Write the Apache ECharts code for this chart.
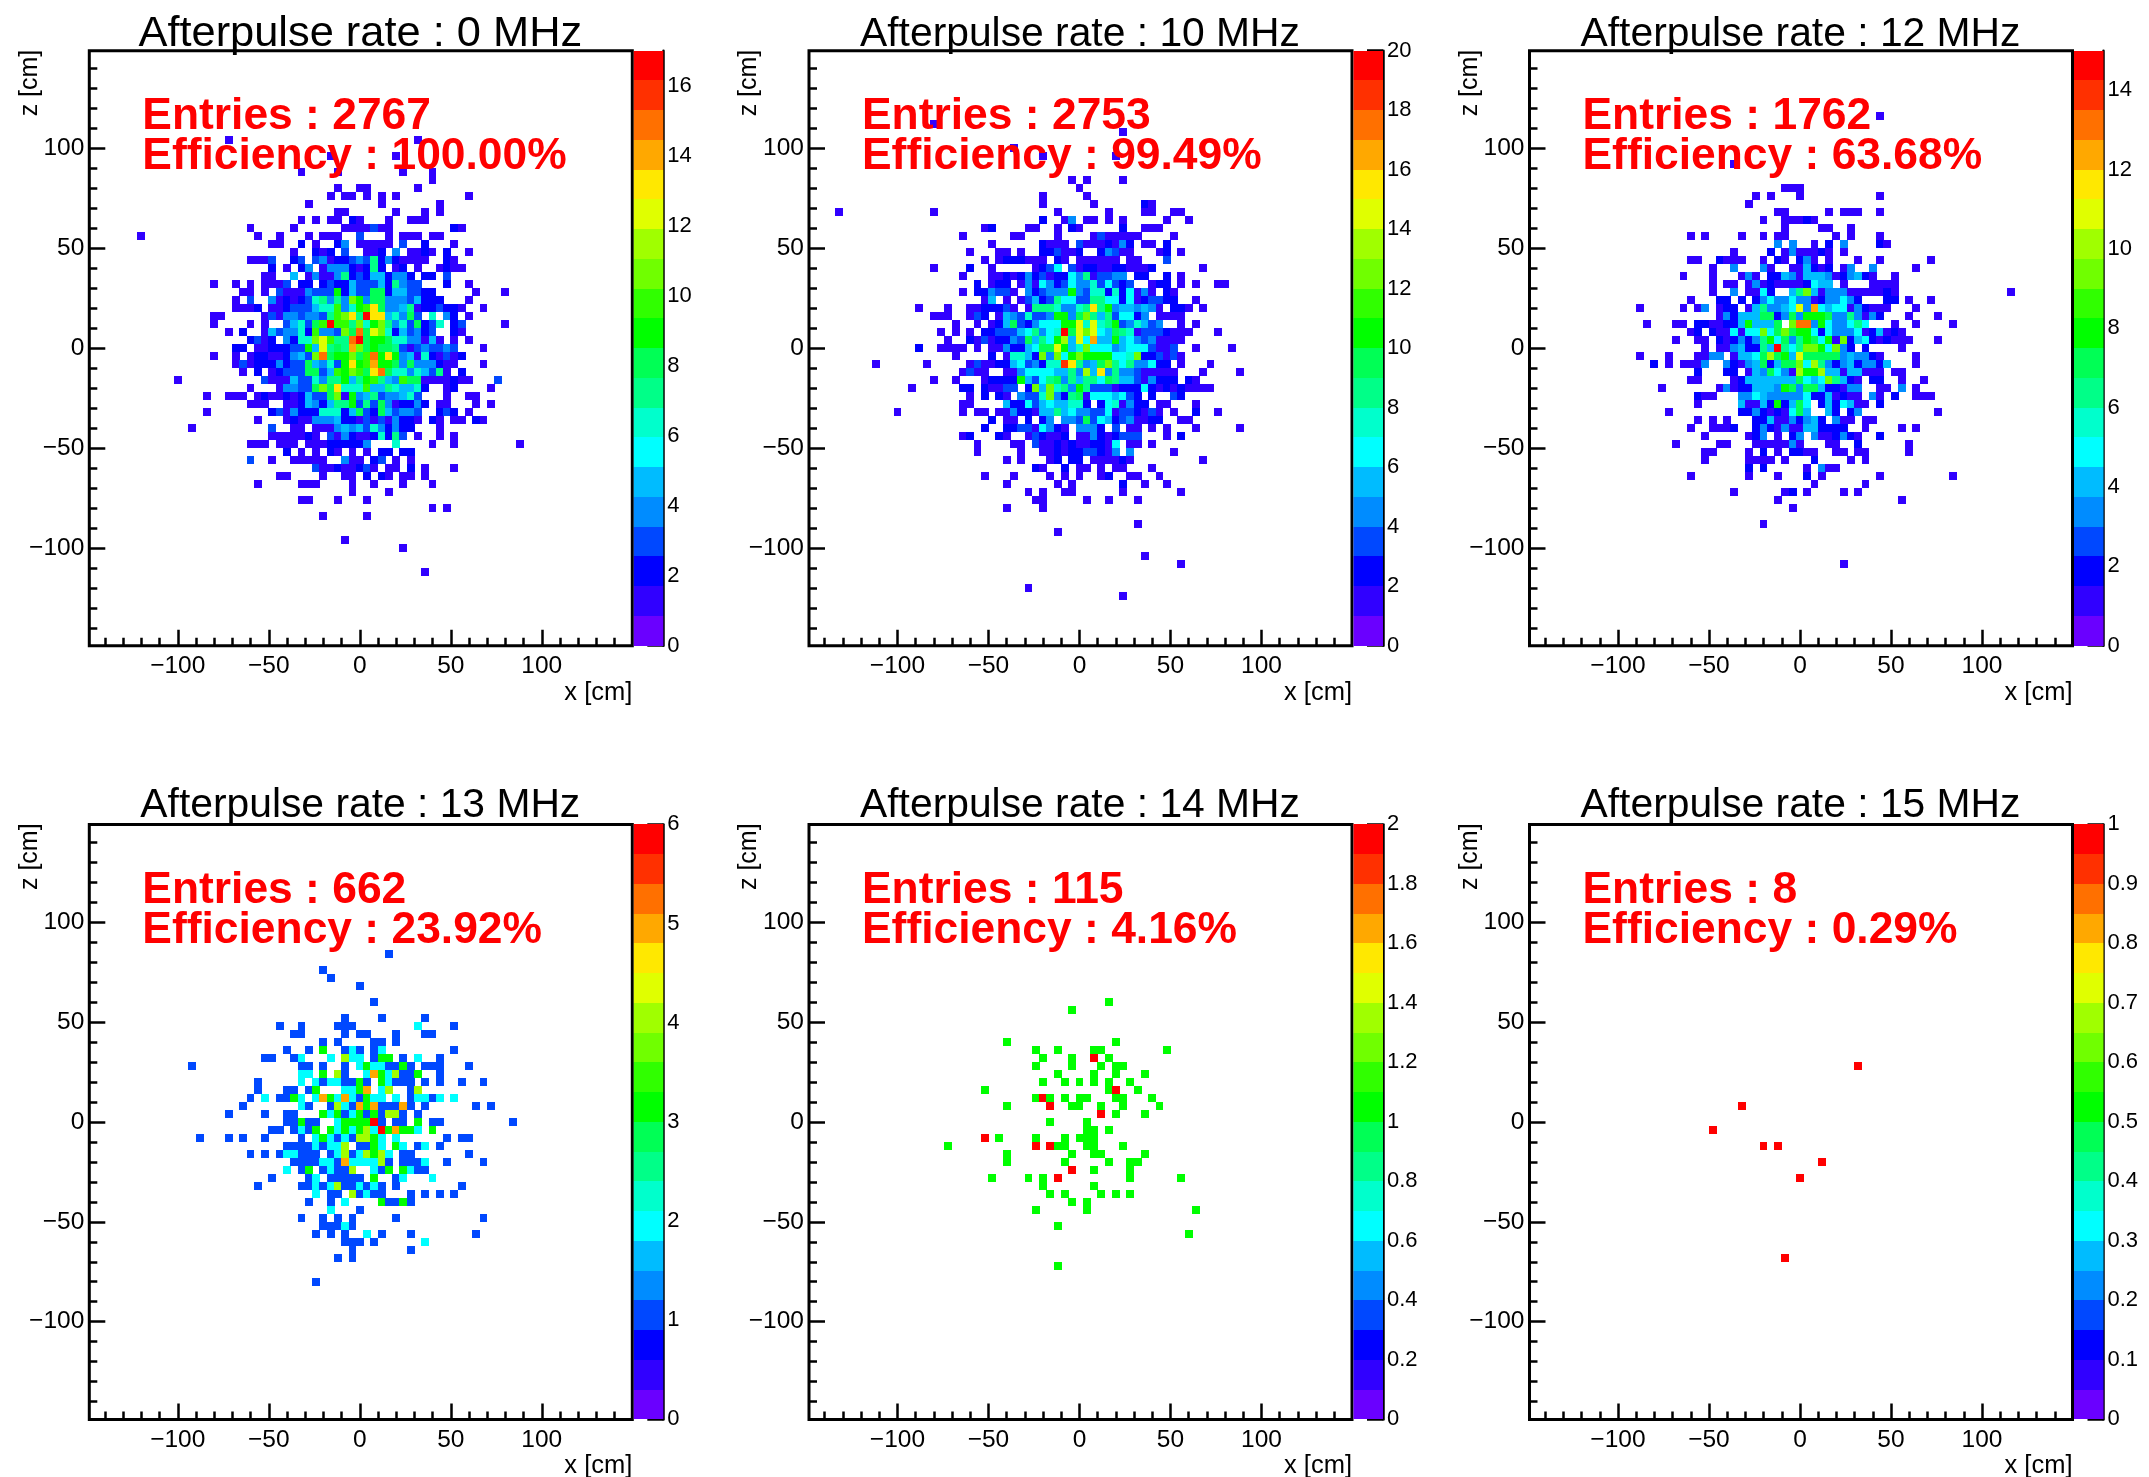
<!DOCTYPE html>
<html><head><meta charset="utf-8">
<script src="https://cdn.jsdelivr.net/npm/echarts@6/dist/echarts.min.js"></script>
<style>html,body{margin:0;padding:0;background:#fff}#c{width:2149px;height:1477px}</style>
</head><body><div id="c"></div>
<script>
// Row format: "zBin|xBin[:count] ..." ; bin = value/4 cm, count defaults to 1
const cells0 = [
"26|-18 8","24|-4 5","22|-8 -3 6 10","21|10","20|-3 0 1 8","19|-4 -2 -1 1 3 5 15","18|-7 3 11","17|-3 -2 5 9 11",
"16|-8 -6 -4 -3 -1:2 0 4 7 8 9","15|-15 -9 -2 -1 0 1 2:3 3 4 13:2 14","14|-30 -14 -11 -7 -5 -4 -3 0:3 4 6 7 8 10 11",
"13|-12 -11 -8:2 -6 -3:2 -2:4 0 1 2 3 4 6:3 9:2 13","12|-9 -6:2 -5 -4:2 -2:3 1 2 3:2 5:4 7 8 9:2 10 12:2 15",
"11|-15 -14 -13 -12:3 -9:2 -8:3 -6:3 -5:4 -4 -3:2 -2:2 -1:3 0:4 1:3 2:7 3:2 4:4 5:2 6 7 8 9 12:2 13",
"10|-12:2 -10 -8:2 -7:4 -5 -4:4 -3:4 -2:4 -1:2 0 1:2 2:7 3:2 5 6:2 8 11 12:2 13 14",
"9|-13 -12 -9:5 -7 -6:4 -5 -4 -3:4 -2:7 -1:2 0:3 1:2 2:5 3:5 4:2 5:4 6:4 7:2 9:2 10:2 12:3",
"8|-20 -17 -15 -13 -12 -11 -10:3 -8:2 -7:2 -5:2 -4:3 -3:2 -2:2 -1:5 0:3 1:3 2:3 3:5 4:2 5:7 6:4 7:3 8:3 12:2 15",
"7|-16 -15 -13 -11:3 -10 -9 -8 -7:4 -6:3 -5:3 -4:3 -3:9 -2:2 -1:5 0:3 1:3 2:8 3:8 4:2 5:5 6:5 7:3 8:3 9:2 10:2 16 20",
"6|-17 -15:3 -12:4 -11 -10:2 -9 -8:2 -7:3 -6:6 -5:7 -4:4 -3:7 -2:4 -1:11 0:9 1:4 2:8 3:8 4:4 5:4 6:4 7:3 8:5 9:2 10:2 11:2 15",
"5|-17 -16 -15 -14:2 -12 -11 -10:2 -9:3 -8:3 -7:3 -6:5 -5:6 -4:6 -3:10 -2:4 -1:6 0:9 1:10 2:13 3:8 4:4 5:4 6:5 7:7 8 9:2 10:2 11:3 12:2 13:2 14 17",
"4|-20 -19 -13 -12:3 -11 -10:4 -9:4 -8:3 -7:4 -6:4 -5:3 -4:7 -3:10 -2:11 -1:13 0:7 1:17 2:13 3:13 4:5 5:6 6:4 7:8 8:3 10:6 12:4 13:2 15",
"3|-20 -15 -13 -10:3 -9:5 -8:6 -7:3 -6:8 -5:10 -4:17 -3:10 -2:10 -1:7 0:11 1:6 2:9 3:11 4:7 5:4 6:6 7:3 8:8 9:2 10:3 11:6 13:2 14:3 20",
"2|-18 -16:2 -13 -12:5 -11:3 -10:4 -9:4 -8:6 -7:2 -6:10 -5:4 -4:4 -3:3 -2:11 -1:8 0:15 1:8 2:12 3:11 4:6 5:2 6:5 7:3 8:4 9:2 10:3 13:2 14",
"1|-15:2 -14:3 -13 -12:2 -10:4 -9:2 -8:6 -7:6 -6:11 -5:12 -4:10 -3:7 -2:7 -1:15 0:17 1:8 2:9 3:9 4:8 5:6 6:6 7:4 8:4 9 10:5 11 13 15",
"0|-17:2 -16:2 -14 -13 -12:2 -11:2 -10:2 -9:3 -8:3 -7:9 -6:5 -5:12 -4:7 -3:8 -2:7 -1:14 0:11 1:8 2:9 3:8 4:8 5:7 6:3 7 8:3 9:4 10:3 11:3 12:4 13:3 17",
"-1|-20 -17 -15 -14:2 -13:2 -12 -11 -10:2 -9:4 -8:5 -7:3 -6:11 -5:15 -4:8 -3:9 -2:9 -1:11 0:8 1:10 2:15 3:9 4:13 5:9 6:4 7:5 8 9:6 10:2 11 12:3 13 14:2",
"-2|-17 -16:3 -15 -14:2 -13:2 -12:2 -11:4 -10:2 -9:3 -8:3 -7:8 -6:5 -5:4 -4:6 -3:3 -2:9 -1:13 0:9 1:10 2:14 3:9 4:9 5:8 6:4 7:8 8:4 9:4 10:4 11:2 12 13 17",
"-3|-16 -14:2 -12 -11:2 -10:3 -9:3 -8:3 -7:8 -6:8 -5:3 -4:5 -3:10 -2:9 -1:11 0:10 1:8 2:13 3:15 4:8 5:6 6:6 7:4 8:6 9:5 10:3 11:7 12 14:2",
"-4|-25 -13:3 -12 -11 -10 -9:5 -8:3 -7:3 -6:6 -5:4 -4:7 -3:7 -2:9 -1:5 0:7 1:9 2:10 3:7 4:5 5:4 6:10 7:8 8:8 9 10 11 12 13:2 14 15 19:3",
"-5|-15 -11 -10:4 -9:4 -8:3 -7:3 -6:8 -5:11 -4:8 -3:13 -2:6 -1:6 0:6 1:10 2:5 3:5 4:7 5:6 6:5 7:5 8:6 9:2 12 13:2 18",
"-6|-21 -18 -17 -16 -14 -13:2 -12 -11 -10:2 -9 -8:2 -7:5 -6:3 -5:3 -4:8 -3:11 -2 -1:9 0:4 1:5 2:7 3:3 4:4 5:4 6:5 7:6 8:3 12 15 16",
"-7|-15 -14 -13 -10 -9 -8:2 -7:5 -6:4 -5:2 -4:5 -3:7 -2:7 -1:9 0:3 1:7 2:3 3:8 4:4 5 6:2 7:2 8:4 9:2 11 12 16 18",
"-8|-21 -12:2 -11:3 -10 -9:4 -8:2 -7:2 -6:2 -5:6 -4:6 -3:6 -2:2 -1:5 0:8 1:3 2:2 3:8 4:5 5:3 6:4 7:4 8:3 11:2 12:3 13:2 15",
"-9|-14 -10 -9:2 -8 -7 -6:4 -5:4 -4:4 -3:5 -2:2 -1:2 0 1:3 2 3:3 4 5:4 6:2 7:2 8 10:2 11 13 14 16:2 17",
"-10|-23 -12:3 -9 -8 -6 -5 -4 -3:4 -2:5 -1:4 0:5 1:3 2:6 3:4 4:2 5:4 6:2 7:2 11",
"-11|-12 -11 -10 -9 -8 -7:2 -6 -4:3 -3 -2:4 -1:2 0 1 2:2 3:6 4:2 5:7 6:3 8 11 13",
"-12|-15 -14 -13 -11 -10 -9 -7 -6 -5 -4:2 -3:2 -2:2 -1:2 0:2 1:4 5:6 10 13 22",
"-13|-10:2 -8 -6 -4:2 -3 -1 1 3:2 4:2 6:2 7:2",
"-14|-15:3 -12 -9 -8 -7 -6 -5 -2:4 -1 0 2:2 3:3 5 7",
"-15|-6:3 -5 -4 -3:2 -2 -1 0:2 1:3 2 4 5 7:2 9 13",
"-16|-11 -10 -5 -2 -1 1:2 3:2 4 6 7 9","-17|-14 -8 -7 -6 -1 2 6 10","-18|-1 4","-19|-8 -7 -3 1","-20|10 12","-21|-5 1","-24|-2","-25|6","-28|9"];
const cells10 = [
"28|-20","27|6","25|-9","24|-5 5","21|-1 1 6","20|0","19|-5 1","18|-5 2 9:2 10","17|-33 -20 -3 4 9 10 13 14",
"16|-5:2 -2 -1:4 1 2 4 6 12 15","15|-13 -12:2 -7 -6 -3 -1:2 0 6:2 9 10 11","14|-16 -9 -8 -3 2 3:3 4 5 6 7 8 13",
"13|-12 -5:2 -4 -3 -2 0:3 1 2 3 4:2 5 6:4 7:2 9 10 12:2","12|-15 -11 -10 -8 -5:2 -4:2 -3:3 -2 -1 0:2 3:2 4:4 5:3 6 7 11 12:2 14",
"11|-13 -11 -10:2 -9:2 -8:2 -7 -6 -5 -3:2 -2 0 1 2 3 4 5 7 8 12:3","10|-20 -15:2 -12 -6 -5:2 -4:3 -3:6 -1:3 0 1:2 2:2 3 4 5:2 6:2 7 8 9 10:2 17",
"9|-16 -12 -11 -10:2 -9 -8:2 -7:4 -6:2 -5:3 -4 -3:2 -2:2 -1:6 0:4 1:8 2 3:3 4:3 5:4 6:4 8:2 9:2 12:2 14",
"8|-14:2 -12 -11:2 -10:2 -8 -7:4 -6 -5:6 -4:4 -3:2 -2:3 -1:6 0:4 1:4 2:7 3:3 4:6 5:3 6:2 7:3 10 11:2 12:2 14 16 19 20",
"7|-16 -14:2 -13:2 -12:4 -11:3 -10:3 -9 -7:4 -6:2 -5:3 -4:4 -3:4 -2:4 -1:10 0:4 1:3 2:7 3:7 4:2 5:7 6:2 7:6 8 9:4 10 12:2 13",
"6|-13 -12:5 -10 -8 -7:3 -6:5 -5:2 -4:3 -3:8 -2:6 -1:6 0:3 1:3 2:8 3:8 4:6 5:6 6:2 7:6 8 9:2 10:3 11:3 12:2 13:2 16",
"5|-22 -18 -15 -14 -13:2 -12:2 -11:2 -10:3 -9 -7 -6:8 -5:8 -4:8 -3:7 -2:4 -1:4 0:7 1:8 2:15 3:8 4:10 5:4 6:5 7:5 8:4 9:5 10:4 11 13:2 14:2 15 17",
"4|-20 -19 -18 -15 -14:3 -13:2 -11 -10:5 -9:4 -8:3 -7:7 -6:3 -5:3 -4:4 -3:10 -2:10 -1:4 0:9 1:12 2:8 3:5 4:8 5:3 6:6 7:6 8:2 9:4 11 12 13 14",
"3|-17 -14 -12 -11:2 -10:5 -9:9 -8:3 -7:2 -6:4 -5:6 -4:6 -3:6 -2:10 -1:10 0:14 1:7 2:14 3:7 4:8 5:10 6:3 7:4 8:7 9:5 10:3 11:4 14 16",
"2|-19 -17 -15 -13:2 -12:2 -11:3 -10:3 -9:3 -8:5 -7:6 -6:8 -5:4 -4:6 -3:7 -2:19 -1:9 0:14 1:12 2:14 3:6 4:5 5:9 6:8 7:7 8 9:3 10:3 11:3 12:2 13 14 15 19",
"1|-18 -15:2 -14 -13:3 -12 -11:2 -10:2 -9:4 -8:3 -7:9 -6:5 -5:8 -4:6 -3:10 -2:13 -1:5 0:14 1:6 2:16 3:5 4:5 5:10 6:5 7:6 8:4 9:3 10:4 11 12 13 14",
"0|-22:2 -19 -18 -17 -16 -14 -12 -11 -10:4 -9:2 -8:2 -7:5 -6:6 -5:9 -4:9 -3:14 -2:10 -1:5 0:7 1:12 2:6 3:6 4:6 5:4 6:5 7:6 8:6 9:6 10:3 11 12 13:3 16 21",
"-1|-17 -12:2 -10 -9:7 -8:7 -7:5 -6:2 -5:12 -4:4 -3:12 -2:6 -1:10 0:12 1:10 2:10 3:10 4:10 5:6 6:6 7:7 8:12 9:2 10:2 11:3 12 13:3 14",
"-2|-28 -21 -15 -14:3 -13 -12 -11:2 -10:2 -9:5 -8:6 -7:3 -6:4 -5:2 -4:7 -3:7 -2:18 -1:15 0:8 1:4 2:5 3:9 4:12 5:8 6:6 7:8 8:4 9:4 10:6 11:2 12:2 14 18",
"-3|-16 -15:3 -14 -13 -10 -9 -8:4 -7:6 -6:6 -5:6 -4:6 -3:5 -2:5 -1:8 0:4 1:13 2:5 3:15 4:4 5:8 6:4 7:4 8:3 9 10 11 12 13 17 22",
"-4|-20 -17 -13 -12:2 -11:2 -10:2 -9:2 -8:10 -7:5 -6:3 -5:6 -4:8 -3:9 -2:4 -1:8 0:5 1:8 2:8 3:6 4:9 5:8 6:5 7:5 8:3 9 10:4 11:2 12:2 13:2 15:2 16",
"-5|-23 -16:2 -15:2 -13:2 -12 -11 -10:3 -9:3 -7:2 -6:12 -5:5 -4:12 -3:7 -2:8 -1:4 0:10 1:8 2:3 3:3 4:3 5 6:2 7:2 8:2 9:6 10:2 11 12:2 13 14:2 15 16 17 18",
"-6|-15 -13:2 -11:2 -10 -8:4 -7:3 -6:3 -5:7 -4:12 -3:4 -2:2 -1:8 0:9 1 2:6 3:6 4:6 5:5 6:6 7:3 8:2 10:2 13:3 14:2",
"-7|-16 -15 -10:5 -9:2 -8:2 -7:6 -6:3 -5:5 -4:6 -3:5 -2:5 -1:7 0:7 1:2 3:2 4:6 5:7 6 7:4 8:2 9:2 11 12 16",
"-8|-25 -16 -14 -13 -11 -10 -9:4 -8:2 -7:2 -6 -5:5 -4:5 -3:8 -2:5 -1:6 0:4 1:4 2:3 3:3 4:6 5 6:3 7:3 8:2 9 10:3 11 13 16:2 19",
"-9|-12:2 -10 -9 -7:2 -5:2 -4:4 -2:4 -1:4 0:3 1:9 2:3 3:6 4:5 5:2 6:3 7:4 8 9 10:2 11:2 14 15",
"-10|-13:2 -10:2 -9:2 -8:3 -7:3 -6 -5:6 -4:4 -3:2 -2 0:4 1:4 2:4 3:2 5:3 7 8 10 12 16 22",
"-11|-16 -15:2 -11:2 -10 -7 -6:3 -5:2 -4 -3 -2:2 0 1 2:4 3:2 4 5:2 6:3 7:3 8:3 12 14:2",
"-12|-14 -9 -8 -6:3 -5 -4 -3:2 -2 -1:2 0 1 2:2 3:2 4 5:6 7 8 10",
"-13|-14 -8 -5 -4 -3:2 -2 -1:2 0:2 1:3 2:3 3:2 4 5:4 7:4 13",
"-14|-10 -8 -4 -3:2 -1:2 0:2 2 3 4 5 6:2 7 17","-15|-6:2 -5 -2:2 0 1 3 5 6 10","-16|-13 -9 -4 -2 0 3 4:2 7 8 11",
"-17|-10 -3 -1 6:2 9 12","-18|-7 -5 -2 -1 6 14","-19|-6 -5 1 4 8","-20|-10 -5","-22|8","-23|-3","-26|9","-27|14","-30|-7","-31|6"];
const cells12 = [
"29|11","23|-9","20|-2 -1 0","19|-6 -4 0 11","18|-7","17|-3 -2 4 6 7 8 11","16|-5 -2 -1 0 1:2 2","15|-2 3 4 7","14|-15 -13 -8 -5 -3 -2 5 7 11",
"13|-3:3 -1:3 2 4:2 6:3 11:2 12","12|-9 -4:2 -2 -1:3 0 1 2 3:2 4 6","11|-15 -14 -11:2 -10 -9 -8 -5 -3:2 -2 0:2 1:3 2 4 8 11 18",
"10|-12 -9:3 -5:3 -4 -1 0 1:4 2:2 3 4:2 6 7:3 10:3 16","9|-16 -12 -8 -7:3 -6 -4:2 -3:2 -2:4 -1:3 0 1:4 2:4 3:4 4:3 5 6:2 7:3 8:4 9:2 10 13",
"8|-12 -10 -9 -7 -6:3 -5 -4:2 -3 -2 -1 0 1:2 2:5 3:4 4:4 6 10 11 12 13","7|-12 -9:3 -7 -6 -5:5 -4:2 -1:4 0:6 1:9 2:4 3 4:3 5:3 6:3 7 8 9 10 11 12:2 13 29",
"6|-15 -11:2 -10:2 -8:2 -6:2 -5:3 -4:5 -3:3 -2:3 -1:5 0:3 1:3 2 3:2 4:3 5:3 6:5 7:3 8:2 12:2 13:2 15 18",
"5|-22 -16 -14 -13:3 -11 -10:2 -9:2 -7 -6:4 -5:6 -4:3 -3:3 -2:4 -1:5 0:11 1:3 2:12 3:5 4:4 5:5 6:5 7 8:3 9:2 10 11 12 16",
"4|-11 -10:3 -9:2 -8:4 -7:4 -6:4 -5:7 -4:7 -3:2 -2:3 -1:7 0:3 1:8 2:8 3:8 4:7 5:3 6:3 7:6 8:3 9 10:3 11:2 15 19",
"3|-21 -17 -16 -14:2 -13:2 -12 -11 -10:2 -9:2 -8:4 -7:8 -6:4 -5:4 -4:4 -3:7 -1:9 0:13 1:13 2:3 3:8 4:5 5:3 6:3 7:5 8:6 9:5 13 16 21",
"2|-15 -14:2 -12:2 -11 -10 -9:5 -8 -7:5 -6:5 -5:9 -4:5 -3:7 -2:9 -1:7 0:8 1:8 2:5 3:2 4:5 5:3 6:3 7:3 8:5 9 10:2 11:4 12 13:2 14",
"1|-17 -14 -13 -11:2 -10 -9:2 -8:3 -7:2 -6:3 -5:6 -4:8 -3:5 -2:7 -1:3 0:6 1:8 2:7 3:5 4:8 5 6:9 7:2 8:4 9:5 10:2 11 12:2 13 14 15 19",
"0|-13 -11 -10 -9:3 -8:4 -7:2 -6:2 -5:6 -4:4 -3:15 -2:6 -1:5 0:6 1:9 2:9 3:8 4:5 5:9 6:3 7:2 9:2 14",
"-1|-22 -18 -14 -13 -12:3 -11:3 -9 -8:4 -7:4 -6:5 -5:7 -4:10 -3:7 -2:8 -1:4 0:11 1:7 2:7 3:7 4:7 5:7 6:3 7:4 8:3 9:3 10:2 11 16",
"-2|-20:2 -18 -16 -15 -14 -13:3 -10:3 -9:2 -8 -7:3 -6:4 -5:7 -4:2 -3:4 -2:7 -1:7 0:9 1:5 2:10 3:6 4:3 5:2 6:3 7:4 8:2 9:3 10:3 11:2 12:4 16",
"-3|-14:2 -10:2 -9:2 -7 -6:4 -5:3 -4:7 -3:5 -2:3 -1 0:10 1:8 2:8 3:10 4:4 5:4 6 7:4 8:4 9 10 11 13 14",
"-4|-15 -14 -9 -8:2 -7:4 -6:4 -5:4 -4:4 -3:4 -2:4 -1:4 0:7 1:5 2:4 3:5 4:9 5:6 6:4 7:2 8 10:2 11:2 14 17",
"-5|-19 -11 -10:3 -9 -8:2 -7:2 -6:4 -5:4 -4:4 -3:3 -2:8 -1:7 0:3 1:7 2:7 3:4 4:2 5:2 6 7:3 8:3 11 12 14:3 16",
"-6|-14:2 -13 -12 -8:3 -7:3 -6:5 -5:4 -4:3 -3:3 -2:3 -1:3 0:3 1:5 2:2 3:2 4:4 5 6:2 7 8 10:3 11 13:2 16 17 18",
"-7|-14 -8:4 -7 -6 -5:4 -4:2 -3:8 -2:2 -1:4 0:7 1:5 3:2 4:4 5:2 6:5 7:4 8 9 11:2",
"-8|-18 -8:2 -7:2 -6:3 -5:2 -4 -3:2 -2 -1:5 0:7 1:4 4:4 5:2 7:2 8:3 19","-9|-14 -12 -10 -6:2 -5:2 -4:4 -3 -2 -1:3 0:2 1:3 2:4 3:2 5:3 6 7 9 10",
"-10|-15 -12 -11 -10 -9:2 -6:2 -5:3 -4:2 -3 -2:3 -1 0 1:4 2:4 3:2 4:2 5:2 6:2 9 14 16","-11|-13 -7 -6:2 -5:3 -3 -1:2 0:3 2:3 3 4 5:2 6:3 7:2 8 11:2",
"-12|-17 -11 -10 -6 -5 -4 -3 -2 -1:3 0 4 5 8:2 15","-13|-13 -12 -7 -5:2 -3 -1:2 0:2 1 2 5 6 8 9 15","-14|-13 -7 -6 -5 -4 -2 2:2 7 9",
"-15|-7:2 -5:2 1 3:3 4 5","-16|-15 -7 -3 1:2 3 11 21","-17|2 9","-18|-9 -2 -1:2 1 6 8","-19|-3 14","-20|-1","-22|-5","-27|6"];
const cells13 = [
"21|4","19|-5","18|-4","17|0","15|2","13|-2 3 9","12|-11 -8 -3 -2 -1 8:2 13","11|-9 -8 -2 0 1 5 9 10","10|-5 -3 2 3 5",
"9|-10 -7 -5:3 -2 -1:2 0 2 3:2 13","8|-13 -12 -9 -8:2 -4:2 -2:4 -1:2 0:2 2 3:3 4:3 6 8:2 11","7|-23 -8 -7 -5 -2 0:2 1:3 2:2 3:2 4 5 6:3 7 9 10 11 15",
"6|-8:2 -7:2 -5:3 -3:4 -2 1:2 2:5 3:3 4:2 5:4 6 7 8:3 11","5|-14 -8:2 -6:2 -5 -4:2 -3:2 -2 -1 0:3 1 3:3 4:2 5 6 7 9 11 14 17",
"4|-14 -10 -9 -7 -6:3 -2:2 -1:2 0:3 1:5 3:2 4:4 7 8:4","3|-15 -13:2 -11 -10 -9:3 -8:2 -6:2 -5:5 -4:3 -3:2 -2:5 -1:2 0 1:3 2:2 3:2 5:2 7 8:2 9:2 10 11:2 13:2",
"2|-16 -8:2 -7 -4 -3:4 -2:2 -1 0:5 1:3 2:5 3 4 5 6:5 7 9 16 18","1|-18 -13 -10 -9 -5:3 -4:2 -3:3 -2 -1:2 0:3 1 2:3 3 4:4 5:4 6 8",
"0|-10 -9 -8:3 -7 -6 -3:2 -2:3 -1:3 0:3 1:3 2:6 3 5 6 8:3 10 11 21","-1|-12 -11 -9 -8:2 -7 -6:3 -4:3 -3:2 -2:3 -1:2 0:3 1:4 2:2 3:6 4:3 5:5 6:3 7:3 8:2 10:3",
"-2|-22 -18 -16 -13 -8 -6:2 -5:3 -4:2 -3 -2:2 -1 0:4 1:4 2:3 3:2 5:2 12 14 15","-3|-10 -9 -8 -7 -6:2 -5 -4:2 -3:2 -2:4 0 1 2:3 3:2 5:3 6:2 8 9:2 11",
"-4|-15 -13 -11 -10:2 -9:2 -8 -7 -6 -4 -3:2 -2:4 -1 0:2 1:4 2:3 3:4 4:2 6 7 15","-5|-9 -8 -7 -6 -5:2 -4:2 -3 -2:5 -1:2 0:2 1:2 2:2 3:4 4 6 7 8 9:2 12 17",
"-6|-10:2 -8 -7:3 -5 -4:2 -3 -2 -1:4 2:2 3 4:3 6:3 7:2 8 9","-7|-12 -7 -6:2 -4 -3 -2 -1 0 2:3 5 6:2 10:2","-8|-14 -8 -7 -6:2 -5 -4:2 -3:4 -2 -1 0:2 1 2:2 3 5 14",
"-9|-6:2 -4 -3 -1:4 0 1:2 2 3 7 9 11 13","-10|-7 -4 -2:2 3:3 4 5 6:3 7","-11|-4:2 0","-12|-8 -5 -3 -1 5 17","-13|-5 -4 -3 -2:2 -1","-14|-6 -4 -2 1:2 3 7 16",
"-15|-2 -1 0 2 9:2","-16|-1 7","-17|-3 -1","-20|-6"];
const cells14 = [
"15|4","14|-1","10|-10 5","9|-6 -3 2 3 12","8|-5 -1 2:2 4","7|-6 -1 3 5 6","6|-3 2 5 9","5|-5 -2 0 2 4 7","4|-13 4 5:2 8","3|-6 -5:2 -4 -2 0 1 5 6 10",
"2|-10 -4:2 -1 0 3 6 11","1|3:2 5 9","0|-4 1","-1|1 2 4","-2|-13:2 -11 -6 -2 0 1 2","-3|-18 -6:2 -4:2 -3 -2 1 2 6","-4|-10 -1 2 3 9","-5|-10 -2 4 7 8",
"-6|-1:2 2 7","-7|-12 -7 -5 -3:2 7 14","-8|-5 2","-9|-4 -2 3 5 7","-10|-1 1","-11|-6 1 16","-13|-3","-14|15","-18|-3"];
const cells15 = ["7|8","2|-8","-1|-12","-3|-5 -3","-5|3","-7|0","-17|-2"];

const titles = ["Afterpulse rate : 0 MHz","Afterpulse rate : 10 MHz","Afterpulse rate : 12 MHz","Afterpulse rate : 13 MHz","Afterpulse rate : 14 MHz","Afterpulse rate : 15 MHz"];
const titleSize = [43.4,40.8,40.8,40.8,40.8,40.8];
const entries = ["Entries : 2767","Entries : 2753","Entries : 1762","Entries : 662","Entries : 115","Entries : 8"];
const efficiency = ["Efficiency : 100.00%","Efficiency : 99.49%","Efficiency : 63.68%","Efficiency : 23.92%","Efficiency : 4.16%","Efficiency : 0.29%"];
const zMax = [17,20,15,6,2,1];
const zTicks = [
 [0,2,4,6,8,10,12,14,16],[0,2,4,6,8,10,12,14,16,18,20],[0,2,4,6,8,10,12,14],[0,1,2,3,4,5,6],
 [0,0.2,0.4,0.6,0.8,1,1.2,1.4,1.6,1.8,2],[0,0.1,0.2,0.3,0.4,0.5,0.6,0.7,0.8,0.9,1]];
const palette = ["#6a00ff","#3000ff","#0000ff","#0048ff","#008cff","#00bcff","#00ffff","#00ffcc","#00ff88","#00ff55","#00ff00","#30ff00","#70ff00","#a0ff00","#e0ff00","#ffe800","#ffa800","#ff7000","#ff3000","#ff0000"];
const majorTicks = [-100,-50,0,50,100];
const minorTicks = [-140,-130,-120,-110,-90,-80,-70,-60,-40,-30,-20,-10,10,20,30,40,60,70,80,90,110,120,130,140];
const allCells = [cells0,cells10,cells12,cells13,cells14,cells15];

const FONT = '"Liberation Sans", Arial, sans-serif';
const LEFT = [89.3,809,1529.5], TOP = [50.7,824.4], W = 543, H = 595;
const XMIN = -148.6, XMAX = 149.75, YMIN = -148.9, YMAX = 148.9;

function parseRows(rows){
  const out=[];
  rows.forEach(r=>{
    const [j,rest]=r.split('|');
    rest.trim().split(/\s+/).forEach(t=>{const [k,v]=t.split(':');out.push([4*+k,4*+j,v?+v:1]);});
  });
  return out;
}
function band(v,zm){return palette[Math.min(19,Math.floor(v/zm*20+1e-9))];}
const minus=v=>String(v).replace('-','\u2212');

const grid=[],xAxis=[],yAxis=[],series=[],elements=[];
for(let p=0;p<6;p++){
  const row=Math.floor(p/3);
  const L=LEFT[p%3],T=TOP[row],zm=zMax[p];
  const g=grid.length;
  grid.push({left:L,top:T,width:W,height:H,show:true,backgroundColor:'transparent',borderColor:'#000',borderWidth:3,containLabel:false});
  grid.push({left:L+W+1.5,top:T,width:29.5,height:H,show:false,containLabel:false});
  const xi=xAxis.length,yi=yAxis.length;
  const common={type:'value',splitLine:{show:false},axisLine:{show:false,onZero:false}};
  xAxis.push({...common,gridIndex:g,position:'bottom',min:XMIN,max:XMAX,
    axisTick:{show:true,inside:true,length:16,customValues:majorTicks,lineStyle:{color:'#000',width:2.5}},
    axisLabel:{show:true,customValues:majorTicks,formatter:minus,fontFamily:FONT,fontSize:24.5,color:'#000',margin:8}});
  yAxis.push({...common,gridIndex:g,position:'left',min:YMIN,max:YMAX,
    axisTick:{show:true,inside:true,length:16,customValues:majorTicks,lineStyle:{color:'#000',width:2.5}},
    axisLabel:{show:true,customValues:majorTicks,formatter:minus,fontFamily:FONT,fontSize:24.5,color:'#000',margin:5,padding:[5,0,0,0]}});
  xAxis.push({...common,gridIndex:g,position:'bottom',min:XMIN,max:XMAX,axisLabel:{show:false},
    axisTick:{show:true,inside:true,length:8,customValues:minorTicks,lineStyle:{color:'#000',width:2.5}}});
  yAxis.push({...common,gridIndex:g,position:'left',min:YMIN,max:YMAX,axisLabel:{show:false},
    axisTick:{show:true,inside:true,length:8,customValues:minorTicks,lineStyle:{color:'#000',width:2.5}}});
  xAxis.push({type:'value',gridIndex:g+1,min:0,max:1,show:false});
  yAxis.push({type:'value',gridIndex:g+1,position:'right',min:0,max:zm,splitLine:{show:false},
    axisLine:{show:true,onZero:false,lineStyle:{color:'#000',width:2.5}},
    axisTick:{show:true,inside:true,length:16,customValues:zTicks[p],lineStyle:{color:'#000',width:2.5}},
    axisLabel:{show:true,customValues:zTicks[p],formatter:v=>String(v),fontFamily:FONT,fontSize:22,color:'#000',margin:4,padding:[5,0,0,0]}});
  series.push({type:'custom',coordinateSystem:'cartesian2d',xAxisIndex:xi,yAxisIndex:yi,animation:false,silent:true,
    data:parseRows(allCells[p]),encode:{x:0,y:1},clip:true,
    renderItem:(params,api)=>{
      const x=api.value(0),z=api.value(1),v=api.value(2);
      const a=api.coord([x-2,z+2]),b=api.coord([x+2,z-2]);
      const x0=Math.round(a[0]-0.3),y0=Math.round(a[1]),x1=Math.round(b[0]+0.3),y1=Math.round(b[1]);
      return {type:'rect',shape:{x:x0,y:y0,width:x1-x0,height:y1-y0},style:{fill:band(v,zm)}};
    }});
  const bandData=palette.map((c,i)=>[i*zm/20,(i+1)*zm/20,i]);
  series.push({type:'custom',coordinateSystem:'cartesian2d',xAxisIndex:xi+2,yAxisIndex:yi+2,animation:false,silent:true,
    data:bandData,encode:{y:[0,1]},
    renderItem:(params,api)=>{
      const a=api.coord([0,api.value(1)]),b=api.coord([1,api.value(0)]);
      const y0=Math.round(a[1]),y1=Math.round(b[1]);
      return {type:'rect',shape:{x:a[0],y:y0,width:b[0]-a[0],height:y1-y0},style:{fill:palette[api.value(2)]}};
    }});
  const txt=(o)=>elements.push({type:'text',z:100,silent:true,...o});
  txt({x:L+W/2-0.5,y:T+(row?2:4.5),style:{text:titles[p],font:titleSize[p]+'px '+FONT,fill:'#000',align:'center',verticalAlign:'bottom'}});
  txt({x:L+53,y:T+66,style:{text:entries[p],font:'bold 44.4px '+FONT,fill:'#ff0000',align:'left',verticalAlign:'middle'}});
  txt({x:L+53,y:T+106,style:{text:efficiency[p],font:'bold 44.4px '+FONT,fill:'#ff0000',align:'left',verticalAlign:'middle'}});
  txt({x:L+W,y:T+H+60,style:{text:'x [cm]',font:'25.5px '+FONT,fill:'#000',align:'right',verticalAlign:'bottom'}});
  txt({x:L-47,y:T-1,rotation:Math.PI/2,style:{text:'z [cm]',font:'25px '+FONT,fill:'#000',align:'right',verticalAlign:'bottom'}});
}
const chart=echarts.init(document.getElementById('c'),null,{renderer:'canvas'});
chart.setOption({animation:false,backgroundColor:'#fff',grid,xAxis,yAxis,series,graphic:{elements}});
</script></body></html>
